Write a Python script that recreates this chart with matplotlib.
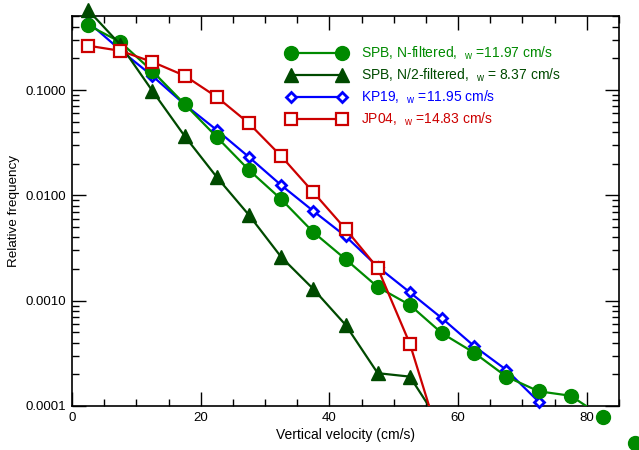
import matplotlib.pyplot as plt
import matplotlib.ticker as mticker
import numpy as np

plt.rcParams['font.family'] = ['Liberation Sans', 'DejaVu Sans']
plt.rcParams['mathtext.default'] = 'regular'

# ---------------------------------- data ---------------------------------- #

vel = np.arange(2.5, 90, 5.0)   # bin centres (cm/s)

spb_n = [0.414, 0.286, 0.151, 0.0736, 0.0358, 0.0174, 0.0092, 0.00447,
         0.00248, 0.00135, 0.00091, 0.00049, 0.00032, 0.00019, 0.000138,
         0.000125, 0.0000785, 0.0000447]
spb_n2 = [0.575, 0.27, 0.098, 0.0366, 0.0149, 0.0065, 0.0026, 0.00129,
          0.00059, 0.000205, 0.00019, 0.000064]
kp19 = [0.443, 0.24, 0.136, 0.073, 0.0417, 0.0231, 0.0125, 0.0071,
        0.0041, 0.0021, 0.0012, 0.00068, 0.00037, 0.00022, 0.00011, 0.00005]
jp04 = [0.264, 0.236, 0.185, 0.137, 0.086, 0.0483, 0.0236, 0.0107,
        0.0048, 0.00204, 0.00039, 0.00004]

labels = ['SPB, N-filtered,  $_w$ =11.97 cm/s',
          'SPB, N/2-filtered,  $_w$ = 8.37 cm/s',
          'KP19,  $_w$ =11.95 cm/s',
          'JP04,  $_w$ =14.83 cm/s']

ymin, ymax = 1e-4, 0.505

# --------------------------------- figure --------------------------------- #

fig = plt.figure(figsize=(6.39, 4.5), dpi=100)
ax = fig.add_axes([0.1127, 0.0978, 0.8560, 0.8666])

styles = [
    dict(data=spb_n, c='#008a00', marker='o', ms=10, mfc='#008a00', mew=1, z=4, all_marks=True),
    dict(data=spb_n2, c='#004a00', marker='^', ms=10, mfc='#004a00', mew=1, z=5, all_marks=False),
    dict(data=kp19, c='#0000ff', marker='D', ms=5, mfc='white', mew=2, z=3, all_marks=False),
    dict(data=jp04, c='#cc0000', marker='s', ms=8, mfc='white', mew=1.6, z=6, all_marks=False),
]

handles = []
for s, lab in zip(styles, labels):
    y = np.array(s['data'])
    x = vel[:len(y)]
    ax.plot(x, y, color=s['c'], lw=1.6, zorder=s['z'])
    # markers are not clipped (as in the original), except those far below the axis
    keep = np.ones(len(y), bool) if s['all_marks'] else (y >= ymin)
    ax.plot(x[keep], y[keep], ls='none', marker=s['marker'], ms=s['ms'],
            mfc=s['mfc'], mec=s['c'], mew=s['mew'], clip_on=False,
            zorder=s['z'] + 0.5)
    h, = ax.plot([], [], color=s['c'], lw=1.6, marker=s['marker'], ms=s['ms'],
                 mfc=s['mfc'], mec=s['c'], mew=s['mew'], label=lab)
    handles.append(h)

ax.set_yscale('log')
ax.set_xlim(0, 85)
ax.set_ylim(ymin, ymax)

ax.xaxis.set_major_locator(mticker.MultipleLocator(20))
ax.xaxis.set_minor_locator(mticker.MultipleLocator(5))
ax.yaxis.set_major_locator(mticker.LogLocator(base=10, numticks=10))
ax.yaxis.set_minor_locator(mticker.LogLocator(base=10, subs=np.arange(2, 10), numticks=10))
ax.yaxis.set_minor_formatter(mticker.NullFormatter())
ax.yaxis.set_major_formatter(mticker.FuncFormatter(lambda v, p: '%.4f' % v))

ax.tick_params(which='both', direction='in', top=True, right=True,
               labelsize=9.5, colors='black', width=1)
ax.tick_params(which='major', length=10, pad=4)
ax.tick_params(which='minor', length=5)
for sp in ax.spines.values():
    sp.set_linewidth(1.2)

ax.set_xlabel('Vertical velocity (cm/s)', fontsize=10, labelpad=3)
ax.set_ylabel('Relative frequency', fontsize=9.7, labelpad=4)

leg = ax.legend(handles=handles, loc='upper left', bbox_to_anchor=(0.392, 0.927),
                frameon=False, numpoints=2, handlelength=4.3, handletextpad=1.1,
                fontsize=10, labelspacing=0.33, borderpad=0, borderaxespad=0)
for t, s in zip(leg.get_texts(), styles):
    t.set_color(s['c'])

fig.savefig('out.png', dpi=100)
